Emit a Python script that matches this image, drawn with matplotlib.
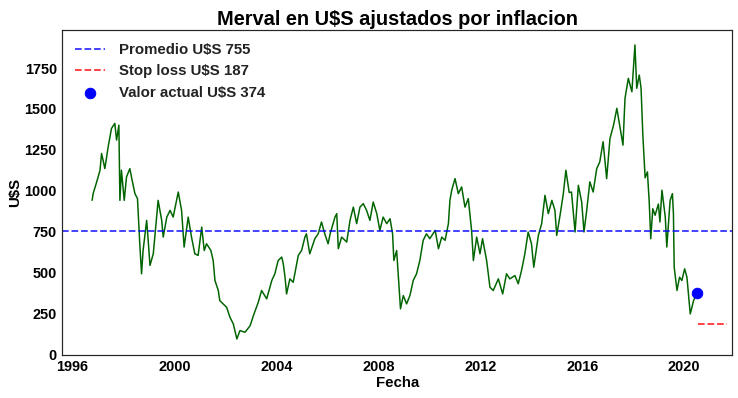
import matplotlib
matplotlib.use("Agg")
import matplotlib.pyplot as plt
import seaborn as sns

# Merval en U$S ajustados (fecha en anios decimales)
fecha = [
    1996.77, 1996.81, 1996.95, 1997.08, 1997.14, 1997.20, 1997.27, 1997.40,
    1997.53, 1997.66, 1997.73, 1997.82, 1997.86, 1997.92, 1998.03, 1998.12,
    1998.25, 1998.34, 1998.45, 1998.55, 1998.64, 1998.71, 1998.77, 1998.91,
    1998.97, 1999.04, 1999.17, 1999.30, 1999.36, 1999.50, 1999.56, 1999.70,
    1999.83, 1999.95, 2000.15, 2000.28, 2000.38, 2000.54, 2000.67, 2000.80,
    2000.93, 2001.07, 2001.17, 2001.26, 2001.43, 2001.52, 2001.59, 2001.72,
    2001.78, 2001.91, 2002.05, 2002.18, 2002.31, 2002.45, 2002.57, 2002.77,
    2002.97, 2003.10, 2003.29, 2003.42, 2003.62, 2003.82, 2003.94, 2004.07,
    2004.21, 2004.27, 2004.34, 2004.40, 2004.53, 2004.66, 2004.86, 2004.99,
    2005.12, 2005.18, 2005.31, 2005.51, 2005.64, 2005.77, 2005.90, 2006.03,
    2006.11, 2006.30, 2006.37, 2006.43, 2006.56, 2006.76, 2006.89, 2007.02,
    2007.15, 2007.28, 2007.41, 2007.54, 2007.67, 2007.80, 2007.94, 2008.06,
    2008.19, 2008.33, 2008.46, 2008.56, 2008.61, 2008.72, 2008.82, 2008.87,
    2008.98, 2009.11, 2009.24, 2009.37, 2009.50, 2009.63, 2009.76, 2009.89,
    2010.02, 2010.23, 2010.36, 2010.49, 2010.62, 2010.75, 2010.81, 2010.88,
    2011.01, 2011.14, 2011.27, 2011.40, 2011.53, 2011.66, 2011.73, 2011.86,
    2011.99, 2012.09, 2012.25, 2012.38, 2012.51, 2012.71, 2012.88, 2013.03,
    2013.16, 2013.36, 2013.49, 2013.62, 2013.75, 2013.88, 2014.01, 2014.10,
    2014.28, 2014.41, 2014.54, 2014.67, 2014.81, 2014.93, 2015.00, 2015.13,
    2015.26, 2015.36, 2015.49, 2015.58, 2015.72, 2015.85, 2015.98, 2016.07,
    2016.17, 2016.30, 2016.43, 2016.57, 2016.69, 2016.82, 2016.96, 2017.09,
    2017.23, 2017.36, 2017.49, 2017.60, 2017.68, 2017.81, 2017.95, 2018.01,
    2018.07, 2018.14, 2018.24, 2018.31, 2018.38, 2018.47, 2018.56, 2018.63,
    2018.69, 2018.77, 2018.86, 2018.99, 2019.05, 2019.13, 2019.26, 2019.32,
    2019.45, 2019.54, 2019.58, 2019.61, 2019.72, 2019.82, 2019.91, 2020.02,
    2020.11, 2020.24, 2020.37, 2020.50,
]
valor = [
    942, 983, 1055, 1126, 1228, 1187, 1136, 1269,
    1381, 1412, 1310, 1401, 942, 1126, 942, 1085,
    1136, 1065, 983, 953, 677, 494, 636, 820,
    698, 545, 616, 840, 942, 820, 718, 840,
    881, 840, 993, 881, 657, 840, 718, 616,
    606, 779, 636, 677, 636, 575, 453, 392,
    330, 310, 289, 228, 188, 96, 147, 137,
    177, 239, 320, 392, 341, 453, 494, 575,
    596, 555, 473, 371, 463, 442, 606, 636,
    718, 738, 616, 708, 738, 810, 738, 677,
    738, 840, 861, 647, 718, 688, 820, 901,
    800, 901, 922, 881, 820, 932, 861, 759,
    840, 800, 830, 738, 575, 636, 392, 280,
    361, 310, 361, 453, 494, 575, 698, 738,
    708, 759, 647, 718, 698, 800, 942, 1004,
    1075, 983, 1024, 901, 953, 759, 575, 718,
    616, 708, 575, 412, 392, 463, 371, 494,
    463, 483, 433, 514, 616, 749, 677, 534,
    728, 800, 973, 861, 942, 881, 728, 850,
    983, 1126, 990, 993, 749, 1034, 932, 749,
    871, 1055, 993, 1136, 1177, 1300, 1075, 1320,
    1401, 1504, 1381, 1279, 1565, 1687, 1605, 1748,
    1891, 1626, 1707, 1626, 1340, 1080, 1116, 932,
    708, 891, 851, 920, 810, 1004, 840, 657,
    942, 983, 861, 534, 392, 473, 453, 524,
    473, 249, 330, 374,
]

promedio = 755
stop_loss = 187
valor_actual = 374
fecha_actual = 2020.50
stop_fechas = [2020.55, 2021.70]

x_ticks = [1996, 2000, 2004, 2008, 2012, 2016, 2020]
y_ticks = [0, 250, 500, 750, 1000, 1250, 1500, 1750]

sns.set_style("white")
plt.rcParams["font.family"] = ["Liberation Sans", "DejaVu Sans"]
plt.rcParams["font.weight"] = "bold"
plt.rcParams["text.color"] = "black"
plt.rcParams["axes.labelcolor"] = "black"
plt.rcParams["xtick.color"] = "black"
plt.rcParams["ytick.color"] = "black"

fig = plt.figure(figsize=(738 / 72, 398 / 72), dpi=72)
ax = fig.add_axes([62.3 / 738, 1 - 354.7 / 398, (732.3 - 62.3) / 738, (354.7 - 30) / 398])

ax.plot(fecha, valor, color="darkgreen", lw=1.5)
ax.axhline(promedio, color="blue", ls="--", lw=1.8, alpha=0.8,
           label=f"Promedio U$S {promedio}")
ax.plot(stop_fechas, [stop_loss, stop_loss], color="red", ls="--", lw=1.8,
        alpha=0.8, label=f"Stop loss U$S {stop_loss}")
ax.scatter([fecha_actual], [valor_actual], color="blue", s=110, zorder=5,
           label=f"Valor actual U$S {valor_actual}")

ax.set_xlim(1995.60, 2021.89)
ax.set_ylim(0, 1982)
ax.set_xticks(x_ticks)
ax.set_yticks(y_ticks)
ax.tick_params(labelsize=14.5, pad=2)
for lbl in ax.get_xticklabels() + ax.get_yticklabels():
    lbl.set_fontweight("bold")

ax.set_title("Merval en U$S ajustados por inflacion", fontsize=20,
             fontweight="bold", color="black", pad=5)
ax.set_xlabel("Fecha", fontsize=15, fontweight="bold", labelpad=2)
ax.set_ylabel("U$S", fontsize=15, fontweight="bold", labelpad=2)

for sp in ax.spines.values():
    sp.set_color("#262626")
    sp.set_linewidth(1.2)

leg = ax.legend(loc="upper left", frameon=False,
                prop={"weight": "bold", "size": 15}, labelspacing=0.5,
                borderaxespad=0.45, handletextpad=0.9)
for t in leg.get_texts():
    t.set_color("#222222")

fig.savefig("out.png", dpi=72)
